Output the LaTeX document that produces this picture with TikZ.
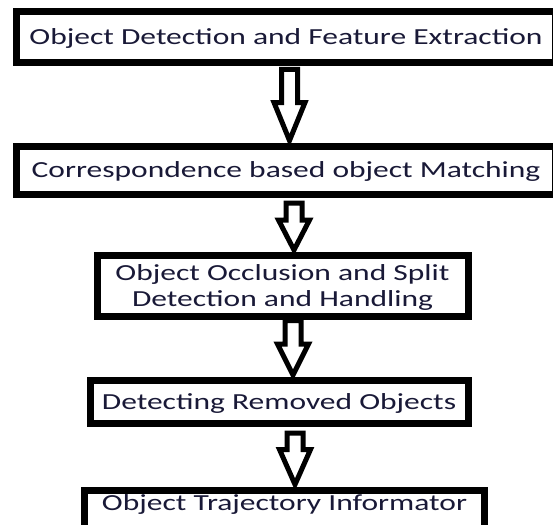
\documentclass[tikz,border=0pt]{standalone}
\usepackage{fontspec}
\setmainfont{Carlito}
\usetikzlibrary{calc}
\definecolor{txt}{RGB}{25,25,55}
\newcommand{\sx}[1]{\scalebox{1.37}[1]{#1}}
\tikzset{
  box/.style={draw=black, line width=7pt, fill=white, text=txt,
    font=\fontsize{23}{26}\selectfont, text height=15pt, text depth=0pt,
    inner sep=0pt, align=center},
  barrow/.style={draw=black, line width=5pt, fill=white, line join=miter,
    to path={let \p1=(\tikztostart), \p2=(\tikztotarget) in
      (\x1-8pt,\y1) -- (\x1+8pt,\y1) -- (\x1+8pt,\y2+#1) -- (\x1+15.5pt,\y2+#1)
      -- (\x1,\y2) -- (\x1-15.5pt,\y2+#1) -- (\x1-8pt,\y2+#1) -- cycle}}
}
\begin{document}
\begin{tikzpicture}[x=1pt,y=-1pt]
\useasboundingbox (0,0) rectangle (553,524);
\node[box, minimum width=539pt, minimum height=51.5pt] (b1) at (286,37.25)
  {\sx{Object Detection and Feature Extraction}};
\node[box, minimum width=539pt, minimum height=48.5pt] (b2) at (286,170.25)
  {\sx{Correspondence based object Matching}};
\node[box, minimum width=371pt, minimum height=60.5pt, text height=41pt] (b3) at (282.5,285.75)
  {\sx{Object Occlusion and Split}\\\sx{Detection and Handling}};
\node[box, minimum width=378pt, minimum height=43pt] (b4) at (279,402)
  {\sx{Detecting Removed Objects}};
\node[box, minimum width=400pt, text height=20pt, text depth=40pt, anchor=base] (b5) at (284.5,510)
  {\sx{Object Trajectory Informator}};
\coordinate (c1) at (289.5,0);
\coordinate (c2) at (294,0);
\coordinate (c3) at (293,0);
\coordinate (c4) at (295,0);
\draw[barrow=38pt] ($(b1.south -| c1)+(0,3)$) to ($(b2.north -| c1)+(0,-2)$);
\draw[barrow=30pt] ($(b2.south -| c2)+(0,5)$) to ($(b3.north -| c2)+(0,-2)$);
\draw[barrow=31pt] ($(b3.south -| c3)+(0,1)$) to ($(b4.north -| c3)+(0,-2)$);
\draw[barrow=35pt] ($(b4.south -| c4)+(0,6)$) to ($(b5.north -| c4)+(0,-2)$);
\end{tikzpicture}
\end{document}
